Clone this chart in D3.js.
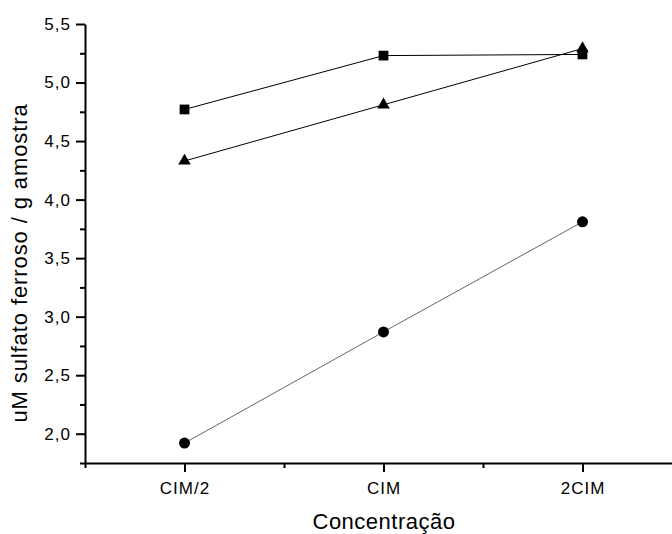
<!DOCTYPE html>
<html>
<head>
<meta charset="utf-8">
<style>
body { margin: 0; background: #fff; }
text { font-family: "Liberation Sans", Arial, sans-serif; fill: #000; }
.axis path, .axis line { stroke: #000; stroke-width: 2px; }
</style>
</head>
<body>
<script src="https://d3js.org/d3.v7.min.js"></script>
<script>

var categories = ["CIM/2", "CIM", "2CIM"];
var catPos = [1, 2, 3];
var squares = [4.77, 5.23, 5.24];
var triangles = [4.33, 4.81, 5.29];
var circles = [1.92, 2.87, 3.81];
var yTicks = [2.0, 2.5, 3.0, 3.5, 4.0, 4.5, 5.0, 5.5];

var width = 672, height = 534;

var svg = d3.select("body").append("svg")
    .attr("width", width)
    .attr("height", height);

var x = d3.scaleLinear().domain([0.5, 3.5]).range([85, 682]);
var y = d3.scaleLinear().domain([1.75, 5.5]).range([463, 24]);

// minor ticks first
var yMinor = d3.range(1.75, 5.5, 0.5);
svg.append("g")
    .attr("class", "axis")
    .attr("transform", "translate(85,0)")
    .call(d3.axisLeft(y).tickValues(yMinor).tickSize(5).tickFormat(""))
    .select(".domain").remove();

svg.append("g")
    .attr("class", "axis")
    .attr("transform", "translate(85,0)")
    .call(d3.axisLeft(y).tickValues(yTicks).tickSize(9).tickSizeOuter(0)
      .tickFormat(function(d) { return d3.format(".1f")(d).replace(".", ","); }))
    .selectAll("text")
    .attr("x", -14)
    .style("font-size", "17px")
    .style("letter-spacing", "1px");

var xMinor = [0.5, 1.5, 2.5];
svg.append("g")
    .attr("class", "axis")
    .attr("transform", "translate(0,463)")
    .call(d3.axisBottom(x).tickValues(xMinor).tickSize(5).tickFormat(""))
    .select(".domain").remove();

svg.append("g")
    .attr("class", "axis")
    .attr("transform", "translate(0,463)")
    .call(d3.axisBottom(x).tickValues(catPos).tickSize(9).tickSizeOuter(0)
      .tickFormat(function(d, i) { return categories[i]; }))
    .selectAll("text")
    .attr("y", 31)
    .attr("dy", 0)
    .style("font-size", "17px")
    .style("letter-spacing", "1px");

// axis titles
svg.append("text")
    .attr("x", 384)
    .attr("y", 529)
    .attr("text-anchor", "middle")
    .style("font-size", "22px")
    .style("letter-spacing", "0.5px")
    .text("Concentração");

svg.append("text")
    .attr("transform", "translate(27,263) rotate(-90)")
    .attr("text-anchor", "middle")
    .style("font-size", "22px")
    .style("letter-spacing", "0.9px")
    .text("uM sulfato ferroso / g amostra");

var line = d3.line()
    .x(function(d, i) { return x(catPos[i]); })
    .y(function(d) { return y(d); });

var series = [
  { values: circles, color: "#666", shape: d3.symbolCircle, size: 95 },
  { values: triangles, color: "#000", shape: d3.symbolTriangle, size: 68 },
  { values: squares, color: "#000", shape: d3.symbolSquare, size: 95 }
];

series.forEach(function(s) {
  svg.append("path")
      .datum(s.values)
      .attr("d", line)
      .attr("fill", "none")
      .attr("stroke", s.color)
      .attr("stroke-width", 1);

  svg.append("g").selectAll("path")
      .data(s.values)
      .enter().append("path")
      .attr("d", d3.symbol().type(s.shape).size(s.size))
      .attr("transform", function(d, i) {
        return "translate(" + x(catPos[i]) + "," + y(d) + ")";
      })
      .attr("fill", "#000");
});

</script>
</body>
</html>
